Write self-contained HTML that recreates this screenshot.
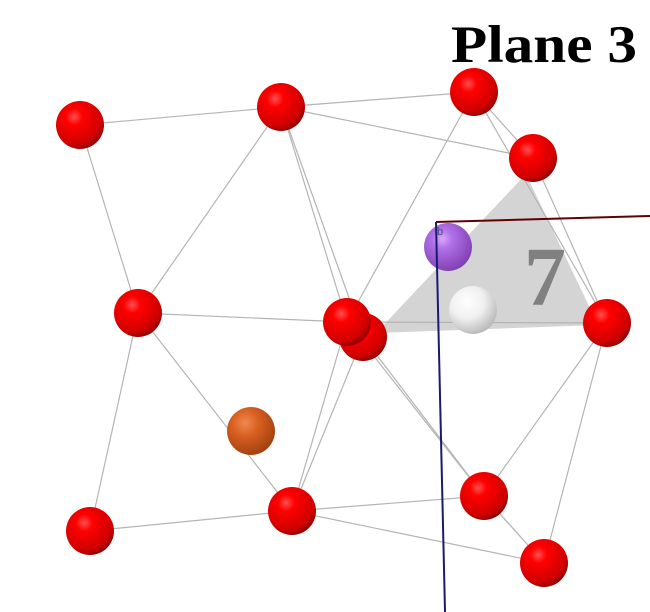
<!DOCTYPE html>
<html><head><meta charset="utf-8"><style>
html,body{margin:0;padding:0;background:#fff;}
svg{display:block}
</style></head><body>
<svg width="650" height="612" viewBox="0 0 650 612">
<defs>
<radialGradient id="gr" cx="0.38" cy="0.33" r="0.7"><stop offset="0" stop-color="#ff5050"/><stop offset="0.25" stop-color="#ff0000"/><stop offset="0.8" stop-color="#d00000"/><stop offset="1" stop-color="#900000"/></radialGradient>
<radialGradient id="gp" cx="0.38" cy="0.33" r="0.7"><stop offset="0" stop-color="#d8a8f8"/><stop offset="0.3" stop-color="#b070e8"/><stop offset="1" stop-color="#8040b0"/></radialGradient>
<radialGradient id="gw" cx="0.38" cy="0.33" r="0.7"><stop offset="0" stop-color="#ffffff"/><stop offset="0.5" stop-color="#f0f0f0"/><stop offset="1" stop-color="#b8b8b8"/></radialGradient>
<radialGradient id="go" cx="0.38" cy="0.33" r="0.7"><stop offset="0" stop-color="#f08850"/><stop offset="0.4" stop-color="#d86020"/><stop offset="1" stop-color="#a04010"/></radialGradient>
</defs>
<polygon points="526,174 376,333 598,325" fill="#d4d4d4"/>
<text x="524" y="305" font-family="Liberation Serif, serif" font-weight="bold" font-size="84" fill="#808080">7</text>
<g id="bonds" stroke="#b4b4b4" stroke-width="1.2"></g>
<g id="atoms"></g>
<line x1="436" y1="222" x2="650" y2="216" stroke="#600000" stroke-width="2"/>
<line x1="436" y1="222" x2="445" y2="612" stroke="#1a1a70" stroke-width="2"/>
<text x="437" y="235" font-family="Liberation Sans, sans-serif" font-size="11" fill="#405070">b</text>
<text x="451" y="62" font-family="Liberation Serif, serif" font-weight="bold" font-size="53" fill="#000" textLength="186" lengthAdjust="spacingAndGlyphs">Plane 3</text>
</svg>
<script>
const atomX=[80,281,474,533,138,347,363,607,90,292,484,544];
const atomY=[125,107,92,158,313,322,337,323,531,511,496,563];
const bondPairs=[[0,1],[0,4],[1,2],[1,3],[1,4],[1,5],[1,6],[2,3],[2,5],[2,7],[3,7],[4,5],[4,8],[4,9],[5,9],[6,9],[6,10],[5,10],[7,10],[7,11],[8,9],[9,10],[9,11],[10,11],[5,7]];
const ns='http://www.w3.org/2000/svg';
const bg=document.getElementById('bonds');
bondPairs.forEach(function(p,i){
 const l=document.createElementNS(ns,'line');
 l.setAttribute('x1',atomX[p[0]]);l.setAttribute('y1',atomY[p[0]]);
 l.setAttribute('x2',atomX[p[1]]);l.setAttribute('y2',atomY[p[1]]);
 
 
 bg.appendChild(l);
});
const ag=document.getElementById('atoms');
function atom(x,y,r,f,name){
 const c=document.createElementNS(ns,'circle');
 c.setAttribute('cx',x);c.setAttribute('cy',y);c.setAttribute('r',r);c.setAttribute('fill',f);
 
 
 ag.appendChild(c);
}
const order=[0,1,2,3,4,6,5,7,8,9,10,11];
order.forEach(function(i){atom(atomX[i],atomY[i],24,'url(#gr)','oxygen-atom');});
atom(448,247,24,'url(#gp)','purple-atom');
atom(473,310,24,'url(#gw)','white-atom');
atom(251,431,24,'url(#go)','orange-atom');
</script>
</body></html>
